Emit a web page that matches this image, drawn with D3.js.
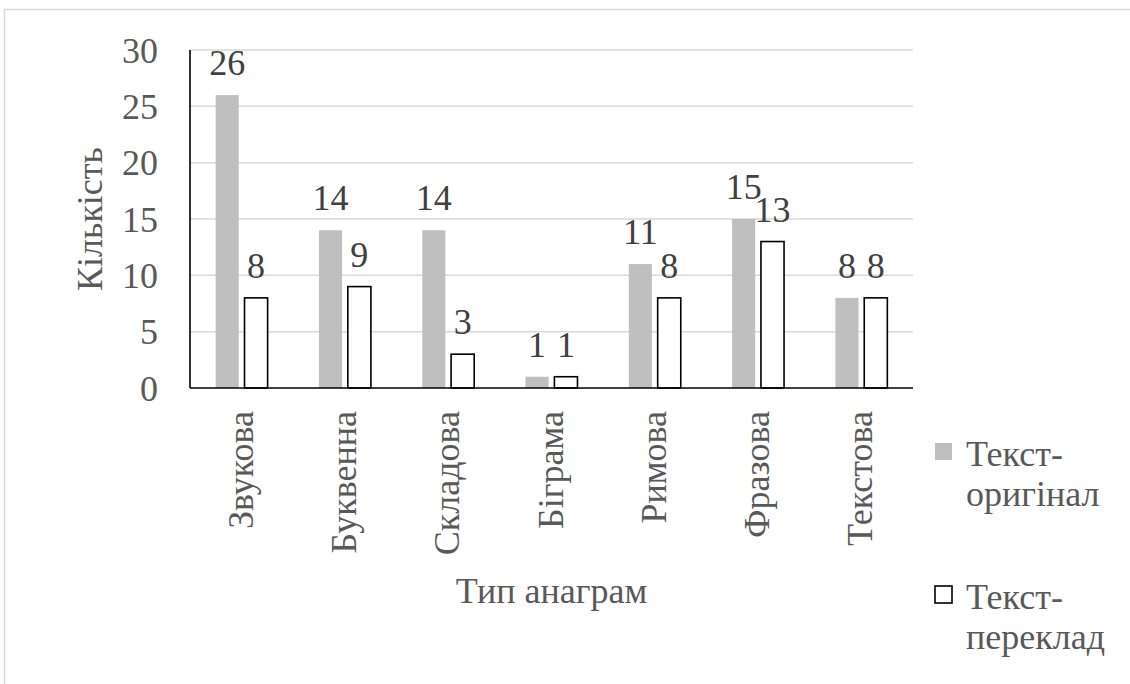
<!DOCTYPE html>
<html>
<head>
<meta charset="utf-8">
<script src="https://cdnjs.cloudflare.com/ajax/libs/d3/7.8.5/d3.min.js"></script>
<style>
  html, body { margin: 0; padding: 0; background: #ffffff; }
  svg { display: block; font-family: "Liberation Serif"; }
  svg text { font-family: "Liberation Serif" !important; }
</style>
</head>
<body>
<svg id="chart" width="1130" height="684" font-family="Liberation Serif"></svg>
<script>
// Anagram types and counts in the original text and in the translation
const categories = ["Звукова", "Буквенна", "Складова", "Біграма", "Римова", "Фразова", "Текстова"];
const originalCounts = [26, 14, 14, 1, 11, 15, 8];
const translationCounts = [8, 9, 3, 1, 8, 13, 8];
const seriesNames = ["Текст-оригінал", "Текст-переклад"];
const legendLines = [["Текст-", "оригінал"], ["Текст-", "переклад"]];
const yTicks = [0, 5, 10, 15, 20, 25, 30];
const yTitle = "Кількість";
const xTitle = "Тип анаграм";

const svg = d3.select("#chart");
const plot = { left: 190, right: 913, top: 50, bottom: 388 };
const fontSize = 36;
const textColor = "#595959";

// shared text styling
function styleText(sel, color) {
  return sel.style("font-family", d => '"Liberation Serif"')
    .attr("font-size", fontSize)
    .attr("fill", color || textColor);
}

// chart frame
svg.append("rect")
  .attr("x", 4.5).attr("y", 9.5)
  .attr("width", 1140).attr("height", 700)
  .attr("fill", "#ffffff")
  .attr("stroke", "#d9d9d9").attr("stroke-width", 1.5);

const y = d3.scaleLinear().domain([0, 30]).range([plot.bottom, plot.top]);
const x0 = d3.scaleBand().domain(categories).range([plot.left, plot.right])
  .paddingInner(0.497).paddingOuter(0.2485);
const x1 = d3.scaleBand().domain(seriesNames).range([0, x0.bandwidth()])
  .paddingInner(0.2);

// horizontal gridlines
svg.append("g").selectAll("line").data(yTicks.filter(d => d > 0)).join("line")
  .attr("x1", plot.left).attr("x2", plot.right)
  .attr("y1", d => y(d)).attr("y2", d => y(d))
  .attr("stroke", "#d9d9d9").attr("stroke-width", 1.5);

// y tick labels
styleText(svg.append("g").selectAll("text").data(yTicks).join("text")
  .attr("x", 158).attr("y", d => y(d))
  .attr("dy", "0.35em")
  .attr("text-anchor", "end")
  .text(d => d));

const rows = categories.map((c, i) => ({
  cat: c,
  values: [
    { series: seriesNames[0], value: originalCounts[i] },
    { series: seriesNames[1], value: translationCounts[i] }
  ]
}));

const groups = svg.append("g").selectAll("g").data(rows).join("g")
  .attr("transform", d => `translate(${x0(d.cat)},0)`);

groups.selectAll("rect").data(d => d.values).join("rect")
  .attr("x", d => x1(d.series))
  .attr("y", d => y(d.value))
  .attr("width", x1.bandwidth())
  .attr("height", d => y(0) - y(d.value))
  .attr("fill", d => d.series === seriesNames[0] ? "#bfbfbf" : "#ffffff")
  .attr("stroke", d => d.series === seriesNames[0] ? "none" : "#000000")
  .attr("stroke-width", 1.6);

// value labels above bars
styleText(groups.selectAll("text").data(d => d.values).join("text")
  .attr("x", d => x1(d.series) + x1.bandwidth() / 2)
  .attr("y", d => y(d.value) - 20)
  .attr("text-anchor", "middle")
  .text(d => d.value), "#404040");

// axis lines
svg.append("line")
  .attr("x1", plot.left).attr("x2", plot.left)
  .attr("y1", plot.top).attr("y2", plot.bottom)
  .attr("stroke", "#000").attr("stroke-width", 1.6);
svg.append("line")
  .attr("x1", plot.left).attr("x2", plot.right)
  .attr("y1", plot.bottom).attr("y2", plot.bottom)
  .attr("stroke", "#000").attr("stroke-width", 1.6);

// rotated category labels
styleText(svg.append("g").selectAll("text").data(categories).join("text")
  .attr("transform", d => `translate(${x0(d) + x0.bandwidth() / 2 + 11},411) rotate(-90)`)
  .attr("text-anchor", "end")
  .text(d => d));

// axis titles
styleText(svg.append("text")
  .attr("transform", `translate(102,${(plot.top + plot.bottom) / 2}) rotate(-90)`)
  .attr("text-anchor", "middle")
  .text(yTitle));

styleText(svg.append("text")
  .attr("x", (plot.left + plot.right) / 2).attr("y", 603)
  .attr("text-anchor", "middle")
  .text(xTitle));

// legend
const legendTop = [466, 609];
const legend = svg.append("g").selectAll("g").data(seriesNames).join("g")
  .attr("transform", (d, i) => `translate(0,${legendTop[i]})`);
legend.append("rect")
  .attr("x", 935).attr("y", -23)
  .attr("width", 17).attr("height", 17)
  .attr("fill", (d, i) => i === 0 ? "#bfbfbf" : "#ffffff")
  .attr("stroke", (d, i) => i === 0 ? "none" : "#000")
  .attr("stroke-width", 1.6);
legend.each(function (d, i) {
  const t = styleText(d3.select(this).append("text")
    .attr("x", 966).attr("y", 0));
  legendLines[i].forEach((line, k) => {
    t.append("tspan").attr("x", 966).attr("dy", k === 0 ? 0 : 40).text(line);
  });
});
</script>
</body>
</html>
